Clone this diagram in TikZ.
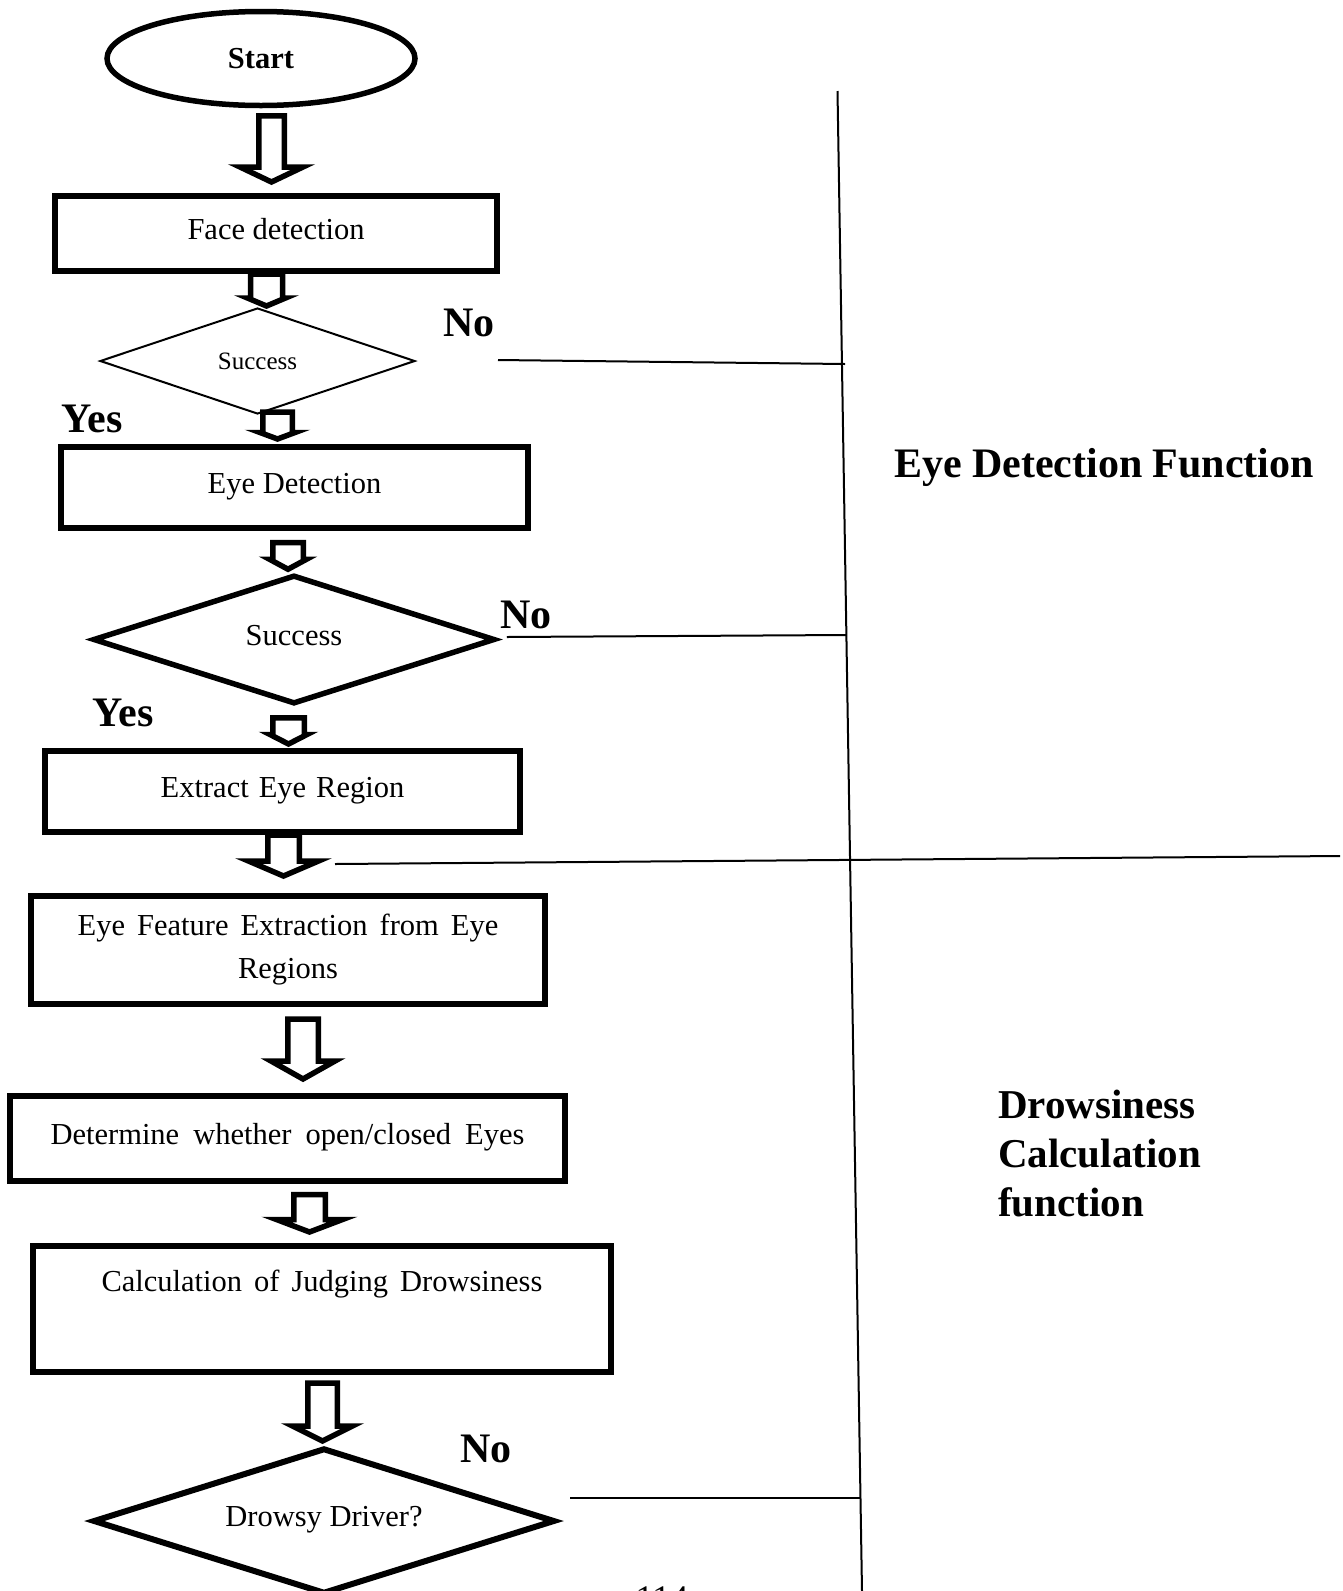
\documentclass[tikz,border=0pt]{standalone}
\usepackage{fontspec}
\setmainfont{Liberation Serif}
\usetikzlibrary{shapes.geometric,calc}

\tikzset{
  terminal/.style={draw,ellipse,line width=5.5pt,inner sep=0pt,minimum width=308pt,minimum height=94pt,font=\bfseries\fontsize{30.5}{36}\selectfont},
  process/.style={draw,rectangle,line width=6pt,inner sep=0pt,align=center,font=\fontsize{30.5}{43}\selectfont},
  oneline/.style={text height=21pt,text depth=10pt},
  widegap/.style={execute at begin node={\spaceskip=#1\relax}},
  decision/.style={draw,diamond,shape aspect=3,inner sep=0pt,font=\fontsize{30.5}{36}\selectfont},
  answer/.style={inner sep=0pt,font=\bfseries\fontsize{42}{50}\selectfont},
  hollowarrow/.style={line width=5.5pt,line join=miter},
  branch/.style={line width=2pt},
}

% block arrow: from, to, shaft half width, head half width, head length
\newcommand{\flowarrow}[5]{%
  \draw[hollowarrow] let \p1=($#1$), \p2=($#2$) in
    (\x1-#3,\y1) -- (\x1-#3,\y2+#5) -- (\x1-#4,\y2+#5) -- (\x1,\y2)
    -- (\x1+#4,\y2+#5) -- (\x1+#3,\y2+#5) -- (\x1+#3,\y1) -- cycle;}

\begin{document}
\begin{tikzpicture}[x=1pt,y=-1pt]
  \path[use as bounding box,fill=white] (0,0) rectangle (1343,1591);

  \path
  (261,58.5) node[terminal](start) {Start}
  (276,233.5) node[process,oneline,minimum width=442pt,minimum height=75pt](face) {Face detection}
  (257.5,361) node[decision,line width=2pt,minimum width=315pt,minimum height=106pt,font=\fontsize{25}{30}\selectfont](succ1) {Success}
  (294.5,487.5) node[process,oneline,minimum width=467pt,minimum height=81pt](eye) {Eye Detection}
  (294,639.5) node[decision,oneline,line width=5.5pt,minimum width=402pt,minimum height=129pt](succ2) {Success}
  (282.5,791.5) node[process,oneline,widegap=10pt,minimum width=475pt,minimum height=81pt](extract) {Extract Eye Region}
  (288,950) node[process,widegap=12pt,minimum width=514pt,minimum height=108pt](feature) {Eye Feature Extraction from Eye\\Regions}
  (287.5,1138.5) node[process,oneline,widegap=14pt,minimum width=555pt,minimum height=85pt](state) {Determine whether open/closed Eyes}
  (322,1309) node[process,widegap=12pt,minimum width=578pt,minimum height=126pt](judge) {Calculation of Judging Drowsiness\\\strut}
  (324,1521) node[decision,oneline,line width=6pt,minimum width=462pt,minimum height=146pt](drowsy) {Drowsy Driver?}
  ;

  \flowarrow{(start.south)+(10.5,7.5)}{(face.north)+(10.5,-11)}{12.75pt}{31.5pt}{15pt}
  \flowarrow{(face.south)+(-9.5,0)}{(succ1.north)+(-9.5,-1)}{16pt}{19pt}{8pt}
  \flowarrow{(succ1.south)+(20,-3)}{(eye.north)+(0,-5)}{14.75pt}{17.5pt}{6.5pt}
  \flowarrow{(eye.south)+(-6.5,11.5)}{(succ2.north)+(0,-3)}{15.25pt}{18.5pt}{10pt}
  \flowarrow{(succ2.south)+(-5.5,11)}{(extract.north)+(0,-4)}{15.75pt}{18.5pt}{9.5pt}
  \flowarrow{(extract.south)+(1,0)}{(feature.north)+(0,-17)}{15.75pt}{35pt}{15pt}
  \flowarrow{(feature.south)+(15,12)}{(state.north)+(0,-14)}{15.25pt}{32pt}{18pt}
  \flowarrow{(state.south)+(22,10.5)}{(judge.north)+(0,-11)}{15.75pt}{33pt}{12.5pt}
  \flowarrow{(judge.south)+(0.5,8)}{(drowsy.north)+(0,-4)}{14.75pt}{30pt}{15pt}

  \path
  (469,323) node[answer](no1) {No}
  (92,419) node[answer](yes1) {Yes}
  (526,615) node[answer](no2) {No}
  (123,713) node[answer](yes2) {Yes}
  (486,1449) node[answer](no3) {No}
  ;

  \coordinate (vtop) at (837.5,91);
  \coordinate (vbot) at (862,1591);
  \coordinate (b1) at (845,364);
  \coordinate (b2) at (846,635);
  \coordinate (b3) at (860.5,1498);
  \coordinate (s1) at (335,864);
  \coordinate (s2) at (1340,856);
  \draw[branch] (vtop) -- (vbot);
  \draw[branch] ($(succ1.east)+(82,-1)$) -- (b1);
  \draw[branch] ($(succ2.east)+(9,-2.5)$) -- (b2);
  \draw[branch] ($(drowsy.east)+(12,-23)$) -- (b3);
  \draw[branch] (s1) -- (s2);

  \node[inner sep=0pt,font=\bfseries\fontsize{42}{50}\selectfont] (eyefn) at (1104,467) {Eye Detection Function};
  \node[inner sep=0pt,align=left,anchor=west,font=\bfseries\fontsize{41}{49}\selectfont] (drowsyfn) at (998,1154) {Drowsiness\\Calculation\\function};

  \node[inner sep=0pt,anchor=base,font=\fontsize{36}{40}\selectfont] (page) at (662,1610) {114};
\end{tikzpicture}
\end{document}
